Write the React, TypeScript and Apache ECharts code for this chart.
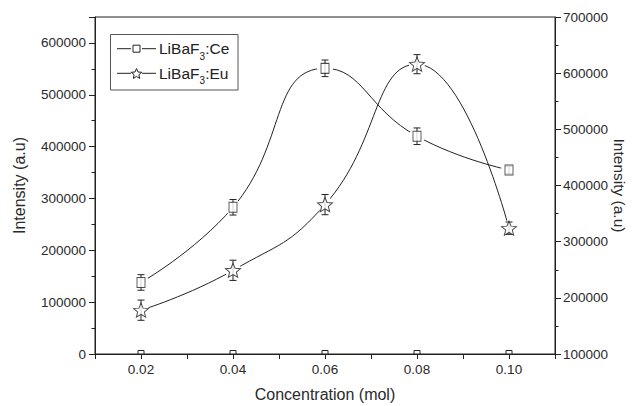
import React, { useEffect, useRef } from "react";
import * as echarts from "echarts";

const concentration = [0.02, 0.04, 0.06, 0.08, 0.1];
const ceIntensity = [138000, 283000, 551000, 420000, 355000];
const ceError = [15000, 15000, 16000, 16000, 7000];
const euIntensity = [178000, 249000, 366000, 616000, 324000];
const euError = [18000, 18000, 18000, 17000, 11000];
const baseline = [0, 0, 0, 0, 0];

const xTitle = "Concentration (mol)";
const yTitle = "Intensity (a.u)";
const ceName = "LiBaF3:Ce";
const euName = "LiBaF3:Eu";

const FONT = "'Liberation Sans', Arial, Helvetica, sans-serif";
const INK = "#222";
const STAR =
  "path://M100,0L126.45,63.6L195.11,69.1L142.8,113.9L158.78,180.9L100,145L41.22,180.9L57.2,113.9L4.89,69.1L73.55,63.6Z";

function starPoints(cx: number, cy: number, r: number): number[][] {
  const pts: number[][] = [];
  for (let i = 0; i < 10; i++) {
    const a = (-90 + i * 36) * (Math.PI / 180);
    const rr = i % 2 === 0 ? r : r * 0.45;
    pts.push([cx + rr * Math.cos(a), cy + rr * Math.sin(a)]);
  }
  return pts;
}

function errorRender(params: any, api: any) {
  const x = api.value(0);
  const y = api.value(1);
  const e = api.value(2);
  const c = api.coord([x, y]);
  const t = api.coord([x, y + e]);
  const b = api.coord([x, y - e]);
  const cap = 3.5;
  const st = { stroke: INK, lineWidth: 1 };
  return {
    type: "group",
    children: [
      { type: "circle", shape: { cx: c[0], cy: c[1], r: 8 }, style: { fill: "#fff" } },
      { type: "line", shape: { x1: c[0], y1: t[1], x2: c[0], y2: b[1] }, style: st },
      { type: "line", shape: { x1: c[0] - cap, y1: t[1], x2: c[0] + cap, y2: t[1] }, style: st },
      { type: "line", shape: { x1: c[0] - cap, y1: b[1], x2: c[0] + cap, y2: b[1] }, style: st },
    ],
  };
}

function baseRender(params: any, api: any) {
  const c = api.coord([api.value(0), api.value(1)]);
  return {
    type: "rect",
    shape: { x: c[0] - 3, y: c[1] - 3.5, width: 6, height: 3.5 },
    style: { fill: "#fff", stroke: INK, lineWidth: 1 },
  };
}

export default function App() {
  const ref = useRef<HTMLDivElement>(null);
  useEffect(() => {
    if (!ref.current) return;
    const chart = echarts.init(ref.current, undefined, { renderer: "svg" });
    const ceData = concentration.map((x, i) => [x, ceIntensity[i]]);
    const euData = concentration.map((x, i) => [x, euIntensity[i]]);
    const ceErr = concentration.map((x, i) => [x, ceIntensity[i], ceError[i]]);
    const euErr = concentration.map((x, i) => [x, euIntensity[i], euError[i]]);
    const baseData = concentration.map((x, i) => [x, baseline[i]]);

    const tickLabel = { color: "#2a2a2a", fontFamily: FONT, fontSize: 13.5 };
    const nameStyle = { color: "#2a2a2a", fontFamily: FONT, fontSize: 16 };

    const legendText = (y: number, suffix: string) => [
      { type: "text", x: 159, y, style: { text: "LiBaF", fill: INK, font: `15.5px ${FONT}`, verticalAlign: "middle" } },
      { type: "text", x: 199.5, y: y + 7.5, style: { text: "3", fill: INK, font: `10px ${FONT}`, verticalAlign: "middle" } },
      { type: "text", x: 205.2, y, style: { text: suffix, fill: INK, font: `15.5px ${FONT}`, verticalAlign: "middle" } },
    ];

    chart.setOption({
      animation: false,
      backgroundColor: "#fff",
      grid: {
        left: 95,
        right: 78,
        top: 17,
        bottom: 52,
        containLabel: false,
        outerBoundsMode: "none",
        show: true,
        borderColor: INK,
        borderWidth: 1,
        backgroundColor: "transparent",
      },
      xAxis: {
        type: "value",
        min: 0.01,
        max: 0.11,
        interval: 0.01,
        name: xTitle,
        nameLocation: "middle",
        nameGap: 32,
        nameTextStyle: nameStyle,
        axisLine: { show: true, lineStyle: { color: INK, width: 1 } },
        axisTick: { show: true, length: 5, lineStyle: { color: INK } },
        axisLabel: {
          ...tickLabel,
          margin: 8,
          formatter: (v: number) => (Math.round(v * 100) % 2 === 0 ? v.toFixed(2) : ""),
        },
        splitLine: { show: false },
      },
      yAxis: [
        {
          type: "value",
          min: 0,
          max: 650000,
          interval: 100000,
          position: "left",
          name: yTitle,
          nameLocation: "middle",
          nameGap: 68,
          nameRotate: 90,
          nameTextStyle: nameStyle,
          axisLine: { show: true, lineStyle: { color: INK, width: 1 } },
          axisTick: { show: true, length: 6, lineStyle: { color: INK } },
          minorTick: { show: true, splitNumber: 2, length: 3.5, lineStyle: { color: INK } },
          axisLabel: {
            ...tickLabel,
            margin: 9,
            formatter: (v: number) => (v % 100000 === 0 ? String(v) : ""),
          },
          splitLine: { show: false },
          minorSplitLine: { show: false },
        },
        {
          type: "value",
          min: 100000,
          max: 700000,
          interval: 100000,
          position: "right",
          name: yTitle,
          nameLocation: "middle",
          nameGap: 56,
          nameMoveOverlap: false,
          nameRotate: -90,
          nameTextStyle: { ...nameStyle, fontSize: 15.5 },
          axisLine: { show: true, lineStyle: { color: INK, width: 1 } },
          axisTick: { show: true, length: 6, lineStyle: { color: INK } },
          minorTick: { show: true, splitNumber: 2, length: 3.5, lineStyle: { color: INK } },
          axisLabel: {
            ...tickLabel,
            margin: 8,
            formatter: (v: number) => String(v),
          },
          splitLine: { show: false },
          minorSplitLine: { show: false },
        },
      ],
      series: [
        {
          name: ceName,
          type: "line",
          yAxisIndex: 0,
          data: ceData,
          smooth: 0.5,
          symbol: "none",
          lineStyle: { color: INK, width: 1 },
          z: 1,
        },
        {
          name: euName,
          type: "line",
          yAxisIndex: 1,
          data: euData,
          smooth: 0.5,
          symbol: "none",
          lineStyle: { color: INK, width: 1 },
          z: 1,
        },
        {
          type: "custom",
          yAxisIndex: 0,
          data: ceErr,
          encode: { x: 0, y: 1 },
          renderItem: errorRender,
          z: 3,
        },
        {
          type: "custom",
          yAxisIndex: 1,
          data: euErr,
          encode: { x: 0, y: 1 },
          renderItem: errorRender,
          z: 3,
        },
        {
          type: "scatter",
          yAxisIndex: 0,
          data: ceData,
          symbol: "rect",
          symbolSize: [8, 10],
          itemStyle: { color: "#fff", borderColor: INK, borderWidth: 1 },
          z: 5,
        },
        {
          type: "scatter",
          yAxisIndex: 1,
          data: euData,
          symbol: STAR,
          symbolSize: [15, 14],
          itemStyle: { color: "#fff", borderColor: INK, borderWidth: 1 },
          z: 5,
        },
        {
          type: "custom",
          yAxisIndex: 0,
          data: baseData,
          encode: { x: 0, y: 1 },
          renderItem: baseRender,
          z: 4,
        },
      ],
      graphic: [
        {
          type: "group",
          z: 100,
          children: [
            {
              type: "rect",
              shape: { x: 110.5, y: 34.5, width: 127.5, height: 55.5 },
              style: { fill: "#fff", stroke: "#555", lineWidth: 1 },
            },
            { type: "line", shape: { x1: 117, y1: 48.7, x2: 131, y2: 48.7 }, style: { stroke: INK, lineWidth: 1 } },
            { type: "line", shape: { x1: 142, y1: 48.7, x2: 156, y2: 48.7 }, style: { stroke: INK, lineWidth: 1 } },
            {
              type: "rect",
              shape: { x: 133, y: 45.2, width: 7, height: 7 },
              style: { fill: "#fff", stroke: INK, lineWidth: 1 },
            },
            ...legendText(48.7, ":Ce"),
            { type: "line", shape: { x1: 117, y1: 73.3, x2: 131, y2: 73.3 }, style: { stroke: INK, lineWidth: 1 } },
            { type: "line", shape: { x1: 142, y1: 73.3, x2: 156, y2: 73.3 }, style: { stroke: INK, lineWidth: 1 } },
            {
              type: "polygon",
              shape: { points: starPoints(136.5, 74, 5.5) },
              style: { fill: "#fff", stroke: INK, lineWidth: 1 },
            },
            ...legendText(73.3, ":Eu"),
          ],
        },
      ],
    });
    return () => chart.dispose();
  }, []);
  return <div ref={ref} style={{ width: 633, height: 406, position: "absolute", left: 0, top: 0 }} />;
}
